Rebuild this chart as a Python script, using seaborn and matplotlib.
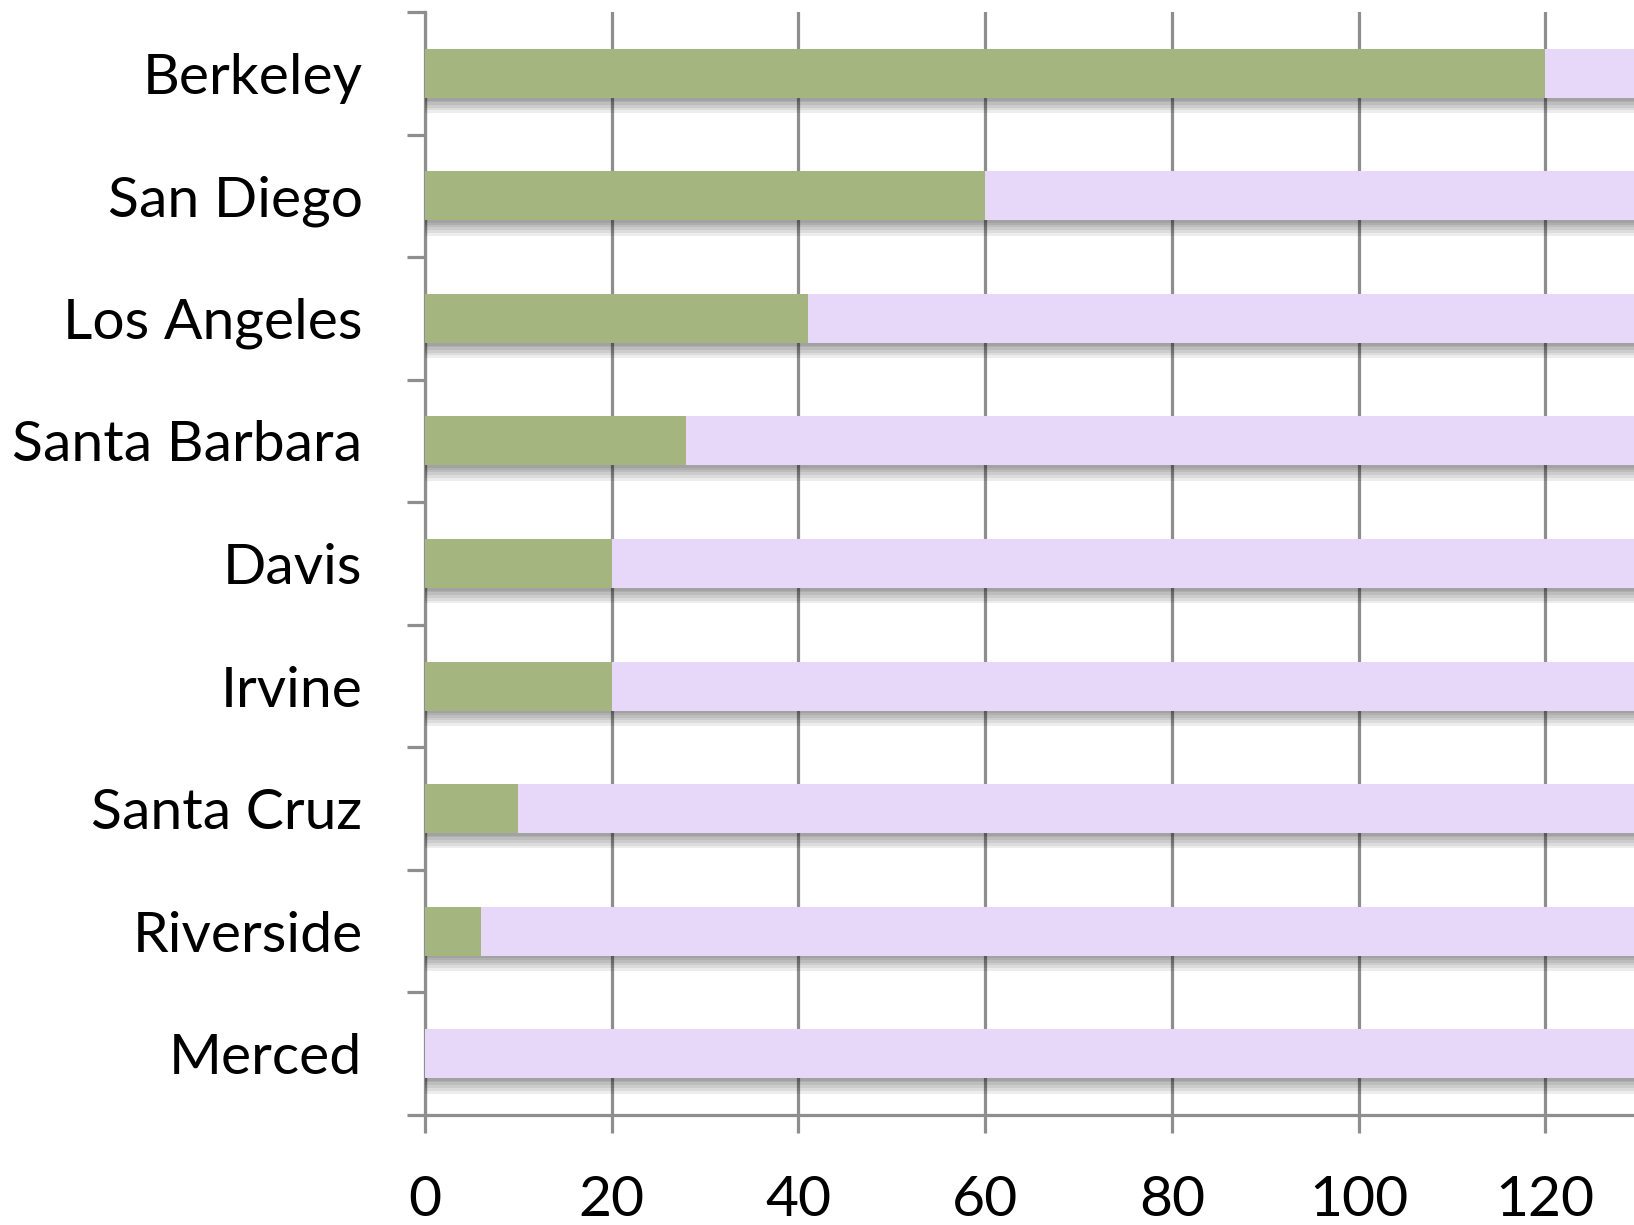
import numpy as np
import pandas as pd
import matplotlib
matplotlib.use("Agg")
import matplotlib.pyplot as plt
import matplotlib.patheffects as pe
import seaborn as sns


## DATOS ##

campuses = ["Berkeley", "San Diego", "Los Angeles", "Santa Barbara", "Davis",
            "Irvine", "Santa Cruz", "Riverside", "Merced"]
green_values = [120, 60, 41, 28, 20, 20, 10, 6, 0]
# la barra lila sigue más allá del borde derecho (recortada en la imagen)
total_values = [150, 150, 150, 150, 150, 150, 150, 150, 150]
x_ticks = [0, 20, 40, 60, 80, 100, 120]

GREEN = "#a5b57f"
LAVENDER = "#e7d8f9"
GRID = "#8e8e8e"

df = pd.DataFrame({"campus": campuses, "green": green_values, "total": total_values})

sns.set_theme(style="white")
plt.rcParams["font.family"] = ["Lato", "DejaVu Sans"]

fig = plt.figure(figsize=(16.34, 12.25), dpi=100)
ax = fig.add_axes([425 / 1634, 1 - 1115 / 1225, 1 - 425 / 1634, (1115 - 12) / 1225])

# barras de fondo (lila) con sombra difusa (varias capas)
sns.barplot(data=df, x="total", y="campus", orient="h", color=LAVENDER,
            width=0.4, saturation=1, ax=ax, zorder=3)
n_back = len(ax.patches)
shadow = [pe.SimplePatchShadow(offset=(0, -k), shadow_rgbFace="black", alpha=0.07)
          for k in (11, 9, 7, 5, 3, 2)]
for p in ax.patches[:n_back]:
    p.set_path_effects(shadow + [pe.Normal()])
    p.set_linewidth(0)

# barras verdes encima
sns.barplot(data=df, x="green", y="campus", orient="h", color=GREEN,
            width=0.4, saturation=1, ax=ax, zorder=4)
for p in ax.patches[n_back:]:
    p.set_linewidth(0)

ax.set_xlim(0, 129.5)
ax.set_ylim(8.5, -0.5)
ax.set_xlabel("")
ax.set_ylabel("")

# rejilla vertical
ax.set_xticks(x_ticks)
ax.xaxis.grid(True, color=GRID, linewidth=2.3, zorder=1)
ax.yaxis.grid(False)
ax.set_axisbelow(True)

for s in ["top", "right"]:
    ax.spines[s].set_visible(False)
for s in ["left", "bottom"]:
    ax.spines[s].set_color(GRID)
    ax.spines[s].set_linewidth(2.3)

ax.tick_params(axis="x", which="major", length=13, width=2.3, color=GRID,
               direction="out", pad=30, labelsize=41, bottom=True)
ax.tick_params(axis="y", which="major", length=0, pad=45, labelsize=41)
ax.set_yticks(np.arange(-0.5, 9, 1), minor=True)
ax.tick_params(axis="y", which="minor", length=13, width=2.3, color=GRID,
               direction="out", left=True)

for lab in ax.get_xticklabels() + ax.get_yticklabels():
    lab.set_color("black")

fig.savefig("out.png", dpi=100, facecolor="white")
